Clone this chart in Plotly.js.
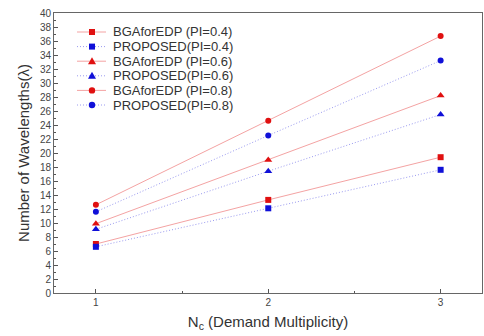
<!DOCTYPE html>
<html><head><meta charset="utf-8">
<script src="https://cdn.plot.ly/plotly-3.0.1.min.js"></script>
<style>html,body{margin:0;padding:0;background:#fff}#c{width:484px;height:336px}</style>
</head><body><div id="c"></div>
<script>
const nc = [1, 2, 3];
const bga04 = [7.0, 13.3, 19.4];
const prop04 = [6.6, 12.1, 17.6];
const bga06 = [9.9, 19.0, 28.2];
const prop06 = [9.1, 17.4, 25.5];
const bga08 = [12.6, 24.6, 36.7];
const prop08 = [11.6, 22.5, 33.2];
const names = ['BGAforEDP (PI=0.4)','PROPOSED(PI=0.4)','BGAforEDP (PI=0.6)','PROPOSED(PI=0.6)','BGAforEDP (PI=0.8)','PROPOSED(PI=0.8)'];
const yTicks = [0,2,4,6,8,10,12,14,16,18,20,22,24,26,28,30,32,34,36,38,40];
const xTicks = [1,2,3];

const series = [bga04, prop04, bga06, prop06, bga08, prop08];
const symbols = ['square','square','triangle-up','triangle-up','circle','circle'];
const RED_L = '#f4a3a3', BLUE_L = '#9a9af0', RED_M = '#e01010', BLUE_M = '#1010d8';
const traces = series.map((ys, i) => {
  const red = i % 2 === 0;
  return {
    x: nc, y: ys, name: names[i], type: 'scatter', mode: 'lines+markers', showlegend: false,
    line: {color: red ? RED_L : BLUE_L, width: 1, dash: red ? 'solid' : '1px,2px'},
    marker: {color: red ? RED_M : BLUE_M, symbol: symbols[i], size: symbols[i]==='triangle-up'?7:6}
  };
});

// custom compact legend (layout in pixels converted to paper fractions)
const W = 484, H = 336, ML = 54, MR = 2, MT = 13, MB = 43;
const PW = W - ML - MR, PH = H - MT - MB;
const px = v => (v - ML) / PW;
const py = v => (H - MB - v) / PH;
const shapes = [], annotations = [];
names.forEach((nm, i) => {
  const red = i % 2 === 0;
  const cy = 32 + 14.6 * i;
  shapes.push({type: 'line', xref: 'paper', yref: 'paper', x0: px(77), x1: px(106), y0: py(cy), y1: py(cy),
    line: {color: red ? RED_L : BLUE_L, width: 1, dash: red ? 'solid' : '1px,2px'}});
  const mc = red ? RED_M : BLUE_M, cx = 92;
  if (symbols[i] === 'square') {
    shapes.push({type: 'rect', xref: 'paper', yref: 'paper', x0: px(cx-3), x1: px(cx+3), y0: py(cy+3), y1: py(cy-3),
      fillcolor: mc, line: {width: 0}});
  } else if (symbols[i] === 'circle') {
    shapes.push({type: 'circle', xref: 'paper', yref: 'paper', x0: px(cx-3.2), x1: px(cx+3.2), y0: py(cy+3.2), y1: py(cy-3.2),
      fillcolor: mc, line: {width: 0}});
  } else {
    shapes.push({type: 'path', xref: 'paper', yref: 'paper',
      path: `M ${px(cx-4)} ${py(cy+3)} L ${px(cx+4)} ${py(cy+3)} L ${px(cx)} ${py(cy-4)} Z`,
      fillcolor: mc, line: {width: 0}});
  }
  annotations.push({xref: 'paper', yref: 'paper', x: px(111), y: py(cy), xanchor: 'left', yanchor: 'middle',
    text: nm, showarrow: false, font: {size: 13, color: '#333'}});
});

const layout = {
  width: W, height: H,
  margin: {l: ML, r: MR, t: MT, b: MB},
  paper_bgcolor: '#fff', plot_bgcolor: '#fff',
  font: {family: 'Liberation Sans, Arial, sans-serif', color: '#444', size: 10},
  showlegend: false,
  shapes: shapes, annotations: annotations,
  xaxis: {
    range: [0.757, 3.24], tickvals: xTicks, ticktext: xTicks.map(String),
    ticks: 'inside', ticklen: 4, tickcolor: '#555',
    minor: {dtick: 0.5, ticks: 'inside', ticklen: 2, tickcolor: '#555'},
    showline: true, linecolor: '#666', linewidth: 1, mirror: true,
    showgrid: false, zeroline: false,
    tickfont: {size: 10, color: '#444'},
    title: {text: 'N<sub>c</sub> (Demand Multiplicity)', font: {size: 15, color: '#333'}, standoff: 9}
  },
  yaxis: {
    range: [0, 40], tickvals: yTicks, ticktext: yTicks.map(String),
    ticks: 'inside', ticklen: 4, tickcolor: '#555',
    minor: {dtick: 1, ticks: 'inside', ticklen: 2, tickcolor: '#555'},
    showline: true, linecolor: '#666', linewidth: 1, mirror: true,
    showgrid: false, zeroline: false,
    tickfont: {size: 10, color: '#444'},
    title: {text: 'Number of Wavelengths(λ)', font: {size: 15, color: '#333'}, standoff: 6}
  }
};
Plotly.newPlot('c', traces, layout, {staticPlot: true});
</script></body></html>
